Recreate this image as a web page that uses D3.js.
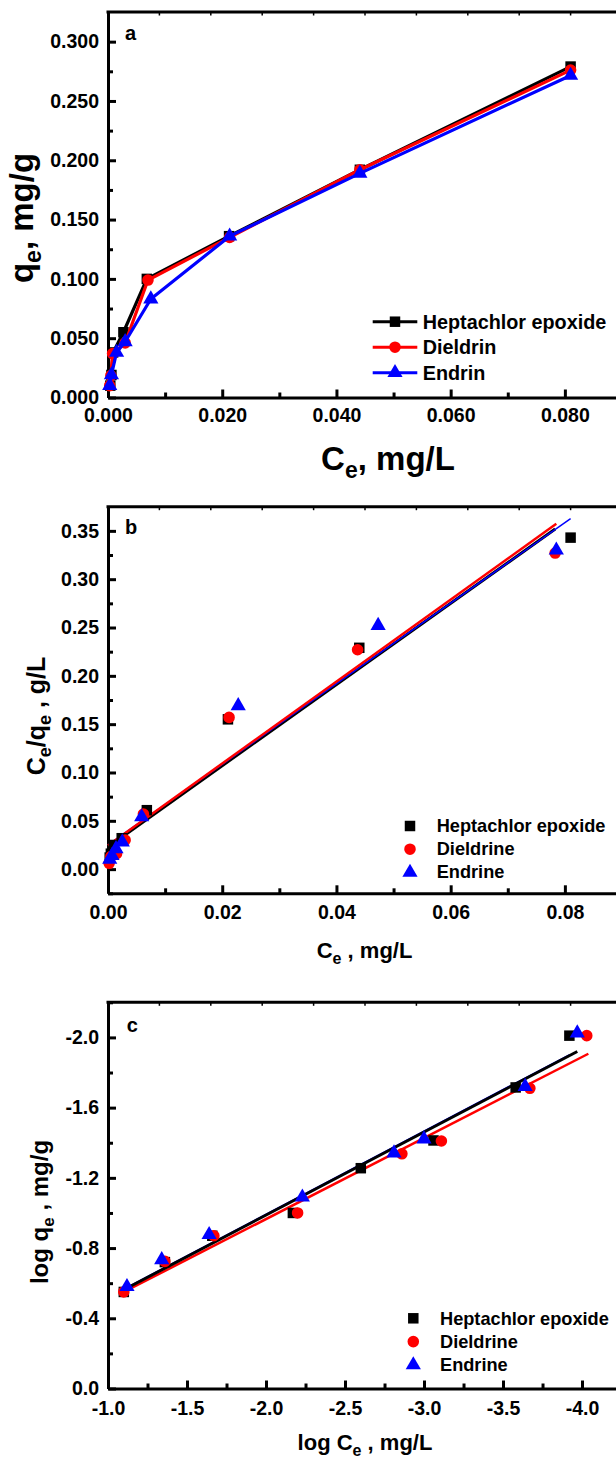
<!DOCTYPE html>
<html>
<head>
<meta charset="utf-8">
<script src="https://cdn.jsdelivr.net/npm/d3@7"></script>
<style>
body { margin: 0; background: #fff; }
text { font-family: "Liberation Sans", Arial, sans-serif; font-weight: bold; fill: #000; }
</style>
</head>
<body>
<svg></svg>
<script>
// ---- data ----
var namesA = ["Heptachlor epoxide", "Dieldrin", "Endrin"];
var namesBC = ["Heptachlor epoxide", "Dieldrine", "Endrine"];

// a: qe vs Ce
var aHeptCe = [0.0004, 0.0006, 0.0009, 0.0027, 0.0068, 0.0212, 0.0441, 0.0810];
var aHeptQe = [0.010, 0.019, 0.038, 0.055, 0.100, 0.136, 0.192, 0.279];
var aDielCe = [0.0003, 0.0005, 0.0008, 0.0030, 0.0070, 0.0213, 0.0441, 0.0810];
var aDielQe = [0.010, 0.0185, 0.037, 0.046, 0.099, 0.135, 0.192, 0.276];
var aEndrCe = [0.0003, 0.0006, 0.0015, 0.0030, 0.0075, 0.0213, 0.0441, 0.0810];
var aEndrQe = [0.010, 0.019, 0.038, 0.047, 0.083, 0.136, 0.189, 0.2715];
var aXTicks = [0, 0.02, 0.04, 0.06, 0.08];
var aXLabels = ["0.000", "0.020", "0.040", "0.060", "0.080"];
var aYTicks = [0, 0.05, 0.1, 0.15, 0.2, 0.25, 0.3];
var aYLabels = ["0.000", "0.050", "0.100", "0.150", "0.200", "0.250", "0.300"];

// b: Ce/qe vs Ce (Langmuir)
var bHeptCe = [0.0003, 0.0005, 0.0010, 0.0024, 0.0068, 0.0210, 0.0440, 0.0810];
var bHeptY = [0.012, 0.016, 0.025, 0.032, 0.061, 0.155, 0.229, 0.343];
var bDielCe = [0.0002, 0.0005, 0.0015, 0.0030, 0.0062, 0.0212, 0.0437, 0.0783];
var bDielY = [0.006, 0.013, 0.016, 0.030, 0.057, 0.157, 0.227, 0.327];
var bEndrCe = [0.0003, 0.0007, 0.0014, 0.0025, 0.0059, 0.0228, 0.0473, 0.0785];
var bEndrY = [0.010, 0.014, 0.021, 0.028, 0.054, 0.169, 0.252, 0.330];
var bFitSlope = [4.20, 4.24, 4.17];
var bFitIntercept = [0.023, 0.0245, 0.025];
var bFitEnd = [0.0783, 0.0785, 0.081];
var bXTicks = [0, 0.02, 0.04, 0.06, 0.08];
var bXLabels = ["0.00", "0.02", "0.04", "0.06", "0.08"];
var bYTicks = [0, 0.05, 0.1, 0.15, 0.2, 0.25, 0.3, 0.35];
var bYLabels = ["0.00", "0.05", "0.10", "0.15", "0.20", "0.25", "0.30", "0.35"];

// c: log qe vs log Ce (Freundlich)
var cHeptX = [-1.10, -1.36, -1.66, -2.17, -2.60, -3.06, -3.58, -3.92];
var cHeptY = [-0.55, -0.72, -0.87, -1.00, -1.255, -1.413, -1.715, -2.01];
var cDielX = [-1.10, -1.36, -1.67, -2.20, -2.86, -3.11, -3.67, -4.03];
var cDielY = [-0.55, -0.724, -0.87, -1.00, -1.337, -1.41, -1.71, -2.01];
var cEndrX = [-1.12, -1.34, -1.64, -2.23, -2.81, -3.00, -3.64, -3.97];
var cEndrY = [-0.58, -0.733, -0.876, -1.09, -1.341, -1.421, -1.72, -2.025];
var cFitSlope = [0.473, 0.4616, 0.4734];
var cFitIntercept = [-0.042, -0.042, -0.044];
var cFitStart = [-1.1, -1.1, -1.1];
var cFitEnd = [-3.97, -4.04, -3.92];
var cXTicks = [-1, -1.5, -2, -2.5, -3, -3.5, -4];
var cXLabels = ["-1.0", "-1.5", "-2.0", "-2.5", "-3.0", "-3.5", "-4.0"];
var cYTicks = [0, -0.4, -0.8, -1.2, -1.6, -2.0];
var cYLabels = ["0.0", "-0.4", "-0.8", "-1.2", "-1.6", "-2.0"];

var colors = ["#000000", "#ff0000", "#0000ff"];
var shapes = [d3.symbolSquare, d3.symbolCircle, d3.symbolTriangle];
var shapeSize = [110, 105, 100];

// ---- layout ----
var width = 616, height = 1459;
var left = 108, right = 622;

var svg = d3.select("svg").attr("width", width).attr("height", height);
svg.append("rect").attr("width", width).attr("height", height).attr("fill", "#fff");

function pairs(xs, ys) {
    return xs.map((d, i) => [d, ys[i]]);
}

function frame(x, y, top, bottom, o) {
    var g = svg.append("g");
    // minor ticks
    g.append("g")
        .attr("transform", `translate(0,${bottom})`)
        .call(d3.axisBottom(x).tickValues(o.xMinor).tickFormat("").tickSizeInner(-5).tickSizeOuter(0))
        .call(a => a.select(".domain").remove());
    g.append("g")
        .attr("transform", `translate(${left},0)`)
        .call(d3.axisLeft(y).tickValues(o.yMinor).tickFormat("").tickSizeInner(-5).tickSizeOuter(0))
        .call(a => a.select(".domain").remove());
    // major
    var xa = g.append("g")
        .attr("transform", `translate(0,${bottom})`)
        .call(d3.axisBottom(x).tickValues(o.xTicks).tickFormat((d, i) => o.xLabels[i])
            .tickSizeInner(-8).tickSizeOuter(0).tickPadding(o.xPad));
    var ya = g.append("g")
        .attr("transform", `translate(${left},0)`)
        .call(d3.axisLeft(y).tickValues(o.yTicks).tickFormat((d, i) => o.yLabels[i])
            .tickSizeInner(-8).tickSizeOuter(0).tickPadding(9));
    [xa, ya].forEach(a => {
        a.selectAll("text").style("font-size", "19.5px").style("font-family", null);
        a.select(".domain").attr("stroke-width", 3);
    });
    g.selectAll(".tick line").attr("stroke-width", 3);
    // top border with small ticks
    g.append("line").attr("x1", left - 1.5).attr("x2", right).attr("y1", top).attr("y2", top)
        .attr("stroke", "#000").attr("stroke-width", 3);
    g.append("line").attr("x1", right).attr("x2", right).attr("y1", top).attr("y2", bottom)
        .attr("stroke", "#000").attr("stroke-width", 3);
    g.selectAll(".topt").data(d3.range(1, 10)).enter().append("line")
        .attr("x1", d => left + (right - left) * d / 10)
        .attr("x2", d => left + (right - left) * d / 10)
        .attr("y1", top).attr("y2", top + 3.5)
        .attr("stroke", "#000").attr("stroke-width", 1.5);
    return g;
}

function markers(g, pts, i) {
    g.append("g").selectAll("path").data(pts).enter().append("path")
        .attr("d", d3.symbol().type(shapes[i]).size(shapeSize[i]))
        .attr("transform", d => `translate(${d[0]},${d[1]})`)
        .attr("fill", colors[i]);
}

// subscripted title: parts = [main, sub, rest]
function title(t, parts, big, small, shift) {
    t.append("tspan").text(parts[0]);
    t.append("tspan").attr("dy", shift).style("font-size", small + "px").text(parts[1]);
    t.append("tspan").attr("dy", -shift).text(parts[2]);
    t.style("font-size", big + "px");
    return t;
}

// ---------- panel a ----------
(function () {
    var top = 12, bottom = 397.5;
    var x = d3.scaleLinear().domain([0, 0.09]).range([left, right]);
    var y = d3.scaleLinear().domain([0, 0.325]).range([bottom, top]);
    frame(x, y, top, bottom, {
        xTicks: aXTicks, xLabels: aXLabels, xMinor: [0.01, 0.03, 0.05, 0.07],
        yTicks: aYTicks, yLabels: aYLabels, yMinor: [0.025, 0.075, 0.125, 0.175, 0.225, 0.275],
        xPad: 11
    });
    var sets = [[aHeptCe, aHeptQe], [aDielCe, aDielQe], [aEndrCe, aEndrQe]];
    var line = d3.line().x(d => x(d[0])).y(d => y(d[1]));
    sets.forEach((s, i) => {
        var pts = pairs(s[0], s[1]);
        svg.append("path").datum(pts).attr("d", line)
            .attr("fill", "none").attr("stroke", colors[i]).attr("stroke-width", 3.2)
            .attr("stroke-linejoin", "round");
        markers(svg, pts.map(d => [x(d[0]), y(d[1])]), i);
    });
    svg.append("text").attr("x", 125).attr("y", 39.5).style("font-size", "20px").text("a");

    // legend
    var lg = svg.append("g");
    namesA.forEach((n, i) => {
        var cy = 321.7 + i * 25.5;
        lg.append("line").attr("x1", 372.7).attr("x2", 417.3).attr("y1", cy).attr("y2", cy)
            .attr("stroke", colors[i]).attr("stroke-width", 3);
        markers(lg, [[395, cy]], i);
        lg.append("text").attr("x", 422.7).attr("y", cy + 7).style("font-size", "19.8px").text(n);
    });

    // titles
    title(svg.append("text").attr("transform", "translate(33,218) rotate(-90)")
        .attr("text-anchor", "middle"), ["q", "e", ", mg/g"], 33, 23, 8);
    title(svg.append("text").attr("x", 388).attr("y", 470)
        .attr("text-anchor", "middle"), ["C", "e", ", mg/L"], 33, 23, 8);
})();

// ---------- panel b ----------
(function () {
    var top = 506.7, bottom = 893.3;
    var x = d3.scaleLinear().domain([0, 0.09]).range([left, right]);
    var y = d3.scaleLinear().domain([-0.025, 0.375]).range([bottom, top]);
    frame(x, y, top, bottom, {
        xTicks: bXTicks, xLabels: bXLabels, xMinor: [0.01, 0.03, 0.05, 0.07],
        yTicks: bYTicks, yLabels: bYLabels, yMinor: [-0.025, 0.025, 0.075, 0.125, 0.175, 0.225, 0.275, 0.325],
        xPad: 12
    });
    var line = d3.line().x(d => x(d[0])).y(d => y(d[1]));
    var lw = [3, 2.5, 1.5];
    [0, 2, 1].forEach(i => {
        var pts = [0, bFitEnd[i]].map(c => [c, bFitIntercept[i] + bFitSlope[i] * c]);
        svg.append("path").datum(pts).attr("d", line)
            .attr("fill", "none").attr("stroke", colors[i]).attr("stroke-width", lw[i]);
    });
    var sets = [[bHeptCe, bHeptY], [bDielCe, bDielY], [bEndrCe, bEndrY]];
    sets.forEach((s, i) => {
        markers(svg, pairs(s[0], s[1]).map(d => [x(d[0]), y(d[1])]), i);
    });
    svg.append("text").attr("x", 125).attr("y", 534).style("font-size", "20px").text("b");

    var lg = svg.append("g");
    namesBC.forEach((n, i) => {
        var cy = 826 + i * 23.2;
        markers(lg, [[410, cy]], i);
        lg.append("text").attr("x", 436.7).attr("y", cy + 6).style("font-size", "18.2px").text(n);
    });

    var yt = svg.append("text").attr("transform", "translate(45,716) rotate(-90)")
        .attr("text-anchor", "middle").style("font-size", "25px");
    yt.append("tspan").text("C");
    yt.append("tspan").attr("dy", 6).style("font-size", "18px").text("e");
    yt.append("tspan").attr("dy", -6).text("/q");
    yt.append("tspan").attr("dy", 6).style("font-size", "18px").text("e");
    yt.append("tspan").attr("dy", -6).text(" , g/L");
    title(svg.append("text").attr("x", 316.7).attr("y", 958), ["C", "e", " , mg/L"], 22, 16, 6);
})();

// ---------- panel c ----------
(function () {
    var top = 1002.3, bottom = 1388.5;
    var x = d3.scaleLinear().domain([-1.0, -4.253]).range([left, right]);
    var y = d3.scaleLinear().domain([0, -2.2]).range([bottom, top]);
    frame(x, y, top, bottom, {
        xTicks: cXTicks, xLabels: cXLabels, xMinor: [-1.25, -1.75, -2.25, -2.75, -3.25, -3.75, -4.25],
        yTicks: cYTicks, yLabels: cYLabels, yMinor: [-0.2, -0.6, -1.0, -1.4, -1.8, -2.2],
        xPad: 13
    });
    var line = d3.line().x(d => x(d[0])).y(d => y(d[1]));
    var lw = [3, 2.5, 2];
    [1, 2, 0].forEach(i => {
        var pts = [cFitStart[i], cFitEnd[i]].map(v => [v, cFitIntercept[i] + cFitSlope[i] * v]);
        svg.append("path").datum(pts).attr("d", line)
            .attr("fill", "none").attr("stroke", colors[i]).attr("stroke-width", lw[i]);
    });
    var sets = [[cHeptX, cHeptY], [cDielX, cDielY], [cEndrX, cEndrY]];
    sets.forEach((s, i) => {
        markers(svg, pairs(s[0], s[1]).map(d => [x(d[0]), y(d[1])]), i);
    });
    svg.append("text").attr("x", 126.7).attr("y", 1031.7).style("font-size", "20px").text("c");

    var lg = svg.append("g");
    namesBC.forEach((n, i) => {
        var cy = 1318.3 + i * 23.3;
        markers(lg, [[413.3, cy]], i);
        lg.append("text").attr("x", 440).attr("y", cy + 6.5).style("font-size", "18.2px").text(n);
    });

    title(svg.append("text").attr("transform", "translate(48,1212) rotate(-90)")
        .attr("text-anchor", "middle"), ["log q", "e", " , mg/g"], 24, 17, 6);
    title(svg.append("text").attr("x", 365).attr("y", 1450)
        .attr("text-anchor", "middle"), ["log C", "e", " , mg/L"], 22, 16, 6);
})();
</script>
</body>
</html>
